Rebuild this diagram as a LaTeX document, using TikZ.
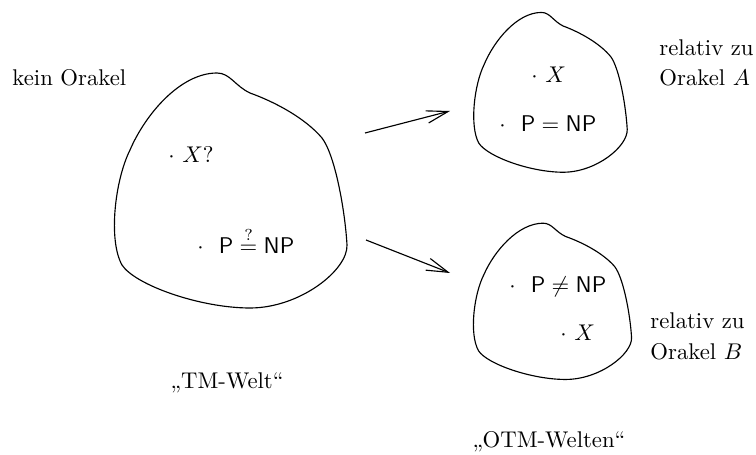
\documentclass[tikz,border=0pt]{standalone}
\usetikzlibrary{arrows.meta}
\tikzset{
  blob/.style={draw, line width=0.5pt},
  lbl/.style={inner sep=0pt, anchor=west},
  ctr/.style={inner sep=0pt},
  arr/.style={line width=0.5pt, -{Straight Barb[length=9.5pt,width=5.5pt]}},
}
\newcommand{\blobpath}{(-13,-117) .. controls (0,-117) and (5,-104) .. (20,-97)
  .. controls (45,-88) and (75,-72) .. (92,-52)
  .. controls (105,-35) and (115,20) .. (117,55)
  .. controls (118,80) and (70,118) .. (20,118)
  .. controls (-30,118) and (-95,95) .. (-108,75)
  .. controls (-122,50) and (-115,-10) .. (-100,-40)
  .. controls (-85,-75) and (-50,-117) .. cycle}
\begin{document}
\begin{tikzpicture}[x=0.44pt, y=-0.44pt]
\useasboundingbox (0,0) rectangle (756,455);
% blobs
\draw[blob, shift={(230,190)}] \blobpath;
\draw[blob, shift={(550,92)}, xscale=0.66, yscale=0.68] \blobpath;
\draw[blob, shift={(552,301)}, xscale=0.68, yscale=0.665] \blobpath;
% texts
\node[lbl] (kein) at (12,78) {kein Orakel};
\node[lbl] (x1) at (168,155) {$\cdot$ $X?$};
\node[lbl] (pnp1) at (197,240) {$\cdot$\ \ $\mathsf{P}\stackrel{?}{=}\mathsf{NP}$};
\node[ctr] (tm) at (227,383) {,,TM-Welt``};
\node[ctr] (otm) at (549,442) {,,OTM-Welten``};
\node[lbl] (xa) at (531,75) {$\cdot$ $X$};
\node[lbl] (pnpa) at (499,124) {$\cdot$\ \ $\mathsf{P}=\mathsf{NP}$};
\node[lbl] (pnpb) at (509,287) {$\cdot$\ \ $\mathsf{P}\neq\mathsf{NP}$};
\node[lbl] (xb) at (560,333) {$\cdot$ $X$};
\node[lbl] (ra1) at (659,48) {relativ zu};
\node[lbl] (ra2) at (659,78) {Orakel $A$};
\node[lbl] (rb1) at (650,321) {relativ zu};
\node[lbl] (rb2) at (650,352) {Orakel $B$};
% arrows
\coordinate (s1) at (365,133);
\coordinate (e1) at (450,111);
\coordinate (s2) at (366,240);
\coordinate (e2) at (450,273);
\draw[arr] (s1) -- (e1);
\draw[arr] (s2) -- (e2);
\end{tikzpicture}
\end{document}
